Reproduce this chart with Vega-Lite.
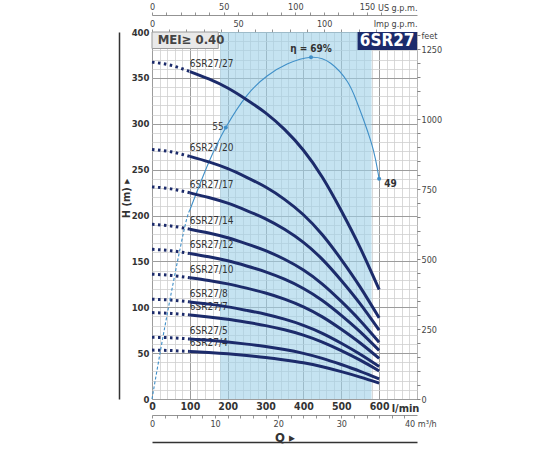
{
  "$schema": "https://vega.github.io/schema/vega-lite/v6.json",
  "width": 265,
  "height": 367,
  "autosize": "none",
  "padding": {"left": 152, "top": 32, "right": 133, "bottom": 51},
  "background": "white",
  "config": {
    "view": {"stroke": "#555", "strokeWidth": 1},
    "font": "Liberation Sans Narrow, DejaVu Sans Condensed, sans-serif",
    "axis": {"labelColor": "#333", "titleColor": "#222", "labelFlush": false, "labelOverlap": false}
  },
  "datasets": {
    "pumps": [
      {"p":"6SR27/27","q":0,"h":367.2},{"p":"6SR27/27","q":50,"h":363.7},{"p":"6SR27/27","q":100,"h":356.9},{"p":"6SR27/27","q":150,"h":348.8},{"p":"6SR27/27","q":200,"h":338.9},{"p":"6SR27/27","q":250,"h":326.2},{"p":"6SR27/27","q":300,"h":311.9},{"p":"6SR27/27","q":350,"h":293.8},{"p":"6SR27/27","q":400,"h":271.1},{"p":"6SR27/27","q":450,"h":241.7},{"p":"6SR27/27","q":500,"h":205.2},{"p":"6SR27/27","q":550,"h":164.7},{"p":"6SR27/27","q":600,"h":119.3},
      {"p":"6SR27/20","q":0,"h":272},{"p":"6SR27/20","q":50,"h":269.4},{"p":"6SR27/20","q":100,"h":264.4},{"p":"6SR27/20","q":150,"h":258.4},{"p":"6SR27/20","q":200,"h":251},{"p":"6SR27/20","q":250,"h":241.6},{"p":"6SR27/20","q":300,"h":231},{"p":"6SR27/20","q":350,"h":217.6},{"p":"6SR27/20","q":400,"h":200.8},{"p":"6SR27/20","q":450,"h":179},{"p":"6SR27/20","q":500,"h":152},{"p":"6SR27/20","q":550,"h":122},{"p":"6SR27/20","q":600,"h":88.4},
      {"p":"6SR27/17","q":0,"h":231.2},{"p":"6SR27/17","q":50,"h":229.0},{"p":"6SR27/17","q":100,"h":224.7},{"p":"6SR27/17","q":150,"h":219.6},{"p":"6SR27/17","q":200,"h":213.4},{"p":"6SR27/17","q":250,"h":205.4},{"p":"6SR27/17","q":300,"h":196.4},{"p":"6SR27/17","q":350,"h":185.0},{"p":"6SR27/17","q":400,"h":170.7},{"p":"6SR27/17","q":450,"h":152.2},{"p":"6SR27/17","q":500,"h":129.2},{"p":"6SR27/17","q":550,"h":103.7},{"p":"6SR27/17","q":600,"h":75.1},
      {"p":"6SR27/14","q":0,"h":190.4},{"p":"6SR27/14","q":50,"h":188.6},{"p":"6SR27/14","q":100,"h":185.1},{"p":"6SR27/14","q":150,"h":180.9},{"p":"6SR27/14","q":200,"h":175.7},{"p":"6SR27/14","q":250,"h":169.1},{"p":"6SR27/14","q":300,"h":161.7},{"p":"6SR27/14","q":350,"h":152.3},{"p":"6SR27/14","q":400,"h":140.6},{"p":"6SR27/14","q":450,"h":125.3},{"p":"6SR27/14","q":500,"h":106.4},{"p":"6SR27/14","q":550,"h":85.4},{"p":"6SR27/14","q":600,"h":61.9},
      {"p":"6SR27/12","q":0,"h":163.2},{"p":"6SR27/12","q":50,"h":161.6},{"p":"6SR27/12","q":100,"h":158.6},{"p":"6SR27/12","q":150,"h":155.0},{"p":"6SR27/12","q":200,"h":150.6},{"p":"6SR27/12","q":250,"h":145.0},{"p":"6SR27/12","q":300,"h":138.6},{"p":"6SR27/12","q":350,"h":130.6},{"p":"6SR27/12","q":400,"h":120.5},{"p":"6SR27/12","q":450,"h":107.4},{"p":"6SR27/12","q":500,"h":91.2},{"p":"6SR27/12","q":550,"h":73.2},{"p":"6SR27/12","q":600,"h":53.0},
      {"p":"6SR27/10","q":0,"h":136},{"p":"6SR27/10","q":50,"h":134.7},{"p":"6SR27/10","q":100,"h":132.2},{"p":"6SR27/10","q":150,"h":129.2},{"p":"6SR27/10","q":200,"h":125.5},{"p":"6SR27/10","q":250,"h":120.8},{"p":"6SR27/10","q":300,"h":115.5},{"p":"6SR27/10","q":350,"h":108.8},{"p":"6SR27/10","q":400,"h":100.4},{"p":"6SR27/10","q":450,"h":89.5},{"p":"6SR27/10","q":500,"h":76},{"p":"6SR27/10","q":550,"h":61},{"p":"6SR27/10","q":600,"h":44.2},
      {"p":"6SR27/8","q":0,"h":108.8},{"p":"6SR27/8","q":50,"h":107.8},{"p":"6SR27/8","q":100,"h":105.8},{"p":"6SR27/8","q":150,"h":103.4},{"p":"6SR27/8","q":200,"h":100.4},{"p":"6SR27/8","q":250,"h":96.6},{"p":"6SR27/8","q":300,"h":92.4},{"p":"6SR27/8","q":350,"h":87.0},{"p":"6SR27/8","q":400,"h":80.3},{"p":"6SR27/8","q":450,"h":71.6},{"p":"6SR27/8","q":500,"h":60.8},{"p":"6SR27/8","q":550,"h":48.8},{"p":"6SR27/8","q":600,"h":35.4},
      {"p":"6SR27/7","q":0,"h":94.2},{"p":"6SR27/7","q":50,"h":93.3},{"p":"6SR27/7","q":100,"h":91.6},{"p":"6SR27/7","q":150,"h":89.5},{"p":"6SR27/7","q":200,"h":87.0},{"p":"6SR27/7","q":250,"h":83.7},{"p":"6SR27/7","q":300,"h":80.0},{"p":"6SR27/7","q":350,"h":75.4},{"p":"6SR27/7","q":400,"h":69.6},{"p":"6SR27/7","q":450,"h":62.0},{"p":"6SR27/7","q":500,"h":52.7},{"p":"6SR27/7","q":550,"h":42.3},{"p":"6SR27/7","q":600,"h":30.6},
      {"p":"6SR27/5","q":0,"h":67.3},{"p":"6SR27/5","q":50,"h":66.7},{"p":"6SR27/5","q":100,"h":65.4},{"p":"6SR27/5","q":150,"h":64.0},{"p":"6SR27/5","q":200,"h":62.1},{"p":"6SR27/5","q":250,"h":59.8},{"p":"6SR27/5","q":300,"h":57.2},{"p":"6SR27/5","q":350,"h":53.9},{"p":"6SR27/5","q":400,"h":49.7},{"p":"6SR27/5","q":450,"h":44.3},{"p":"6SR27/5","q":500,"h":37.6},{"p":"6SR27/5","q":550,"h":30.2},{"p":"6SR27/5","q":600,"h":21.9},
      {"p":"6SR27/4","q":0,"h":53.3},{"p":"6SR27/4","q":50,"h":52.8},{"p":"6SR27/4","q":100,"h":51.8},{"p":"6SR27/4","q":150,"h":50.6},{"p":"6SR27/4","q":200,"h":49.2},{"p":"6SR27/4","q":250,"h":47.4},{"p":"6SR27/4","q":300,"h":45.3},{"p":"6SR27/4","q":350,"h":42.6},{"p":"6SR27/4","q":400,"h":39.4},{"p":"6SR27/4","q":450,"h":35.1},{"p":"6SR27/4","q":500,"h":29.8},{"p":"6SR27/4","q":550,"h":23.9},{"p":"6SR27/4","q":600,"h":17.3}
    ],
    "eff": [
      {"q":0,"h":0},{"q":39,"h":90},{"q":83,"h":181},{"q":100,"h":206},{"q":150,"h":258},{"q":195,"h":296},{"q":251,"h":331},{"q":304,"h":352},{"q":357,"h":365},{"q":420,"h":372.4},{"q":472,"h":366},{"q":516,"h":346},{"q":540,"h":325},{"q":560,"h":303},{"q":578,"h":281},{"q":590,"h":262},{"q":600,"h":240}
    ],
    "effpts": [
      {"q":195,"h":296,"t":"55","k":"l"},
      {"q":420,"h":372.4,"t":"η = 69%","k":"t"},
      {"q":600,"h":240,"t":"49","k":"r"}
    ],
    "zones": [
      {"name":"shade","q0":180,"q1":580,"h0":0,"h1":400},
      {"name":"mei","q0":0,"q1":175,"h0":382,"h1":400,"qt":15,"ht":391,"t":"MEI≥ 0.40"},
      {"name":"model","q0":543,"q1":700,"h0":380.5,"h1":400,"qt":621,"ht":390.5,"t":"6SR27"}
    ]
  },
  "layer": [
    {
      "data": {"name": "zones"},
      "transform": [{"filter": "datum.name == 'shade'"}],
      "mark": {"type": "rect", "fill": "#9fd0e8", "opacity": 0.6},
      "encoding": {
        "x": {"field": "q0", "type": "quantitative", "scale": {"domain": [0, 700], "nice": false, "zero": false},
              "axis": {"orient": "bottom", "values": [0,20,40,60,80,100,120,140,160,180,200,220,240,260,280,300,320,340,360,380,400,420,440,460,480,500,520,540,560,580,600,620,640,660,680,700],
                       "grid": true, "gridColor": "#cfcfcf", "gridWidth": 0.8, "labels": false, "ticks": false, "domain": false, "title": null}},
        "x2": {"field": "q1"},
        "y": {"field": "h0", "type": "quantitative", "scale": {"domain": [0, 400], "nice": false, "zero": false},
              "axis": {"orient": "left", "values": [0,10,20,30,40,50,60,70,80,90,100,110,120,130,140,150,160,170,180,190,200,210,220,230,240,250,260,270,280,290,300,310,320,330,340,350,360,370,380,390,400],
                       "grid": true, "gridColor": "#cfcfcf", "gridWidth": 0.8, "labels": false, "ticks": false, "domain": false, "title": null}},
        "y2": {"field": "h1"}
      }
    },
    {
      "data": {"name": "zones"},
      "transform": [{"filter": "datum.name == 'mei'"}],
      "mark": {"type": "rect", "fill": "#e9e9e9", "stroke": "#9a9a9a", "strokeWidth": 1},
      "encoding": {
        "x": {"field": "q0", "type": "quantitative", "scale": {"domain": [0, 700], "nice": false, "zero": false},
              "axis": {"orient": "bottom", "values": [0,100,200,300,400,500,600], "grid": true, "gridColor": "#9c9c9c", "gridWidth": 1,
                       "ticks": false, "domain": false, "labelFontWeight": "bold", "labelFontSize": 10.5, "labelPadding": 2, "labelColor": "#333",
                       "title": "l/min", "titleX": 253, "titleY": 9, "titleAlign": "center", "titleBaseline": "middle", "titleFontSize": 11, "titleFontWeight": "bold", "titleColor": "#333"}},
        "x2": {"field": "q1"},
        "y": {"field": "h0", "type": "quantitative", "scale": {"domain": [0, 400], "nice": false, "zero": false},
              "axis": {"orient": "left", "values": [0,50,100,150,200,250,300,350,400], "grid": true, "gridColor": "#9c9c9c", "gridWidth": 1,
                       "ticks": false, "domain": false, "labelFontWeight": "bold", "labelFontSize": 9.5, "labelPadding": 3, "labelColor": "#333",
                       "title": "H (m)   ▸", "titleAngle": -90, "titleX": -26, "titleY": 166, "titleAlign": "center", "titleBaseline": "middle",
                       "titleFontWeight": "bold", "titleFontSize": 11, "titleColor": "#333"}},
        "y2": {"field": "h1"}
      }
    },
    {
      "data": {"name": "zones"},
      "transform": [{"filter": "datum.name == 'model'"}],
      "mark": {"type": "rect", "fill": "#1c2b6b"},
      "encoding": {
        "x": {"field": "q0", "type": "quantitative", "scale": {"domain": [0, 700], "nice": false, "zero": false},
              "axis": {"orient": "top", "offset": 17,
                       "values": [0,37.85,75.71,113.56,151.42,189.27,227.12,264.98,302.83,340.69,378.54,416.39,454.25,492.1,529.96,567.81,605.66],
                       "labelExpr": "round(datum.value/3.7854)%50==0 ? format(round(datum.value/3.7854),'d') : ''",
                       "grid": false, "domain": true, "domainColor": "#777", "domainWidth": 0.8, "ticks": true, "tickColor": "#777", "tickSize": 3, "tickWidth": 0.8,
                       "labelFontSize": 9, "labelPadding": 1, "labelColor": "#444",
                       "title": "US g.p.m.", "titleX": 265, "titleY": -8, "titleAlign": "right", "titleBaseline": "middle", "titleFontSize": 9, "titleFontWeight": "normal", "titleColor": "#444"}},
        "x2": {"field": "q1"},
        "y": {"field": "h0", "type": "quantitative", "scale": {"domain": [0, 400], "nice": false, "zero": false},
              "axis": {"orient": "right",
                       "values": [0,15.24,30.48,45.72,60.96,76.2,91.44,106.68,121.92,137.16,152.4,167.64,182.88,198.12,213.36,228.6,243.84,259.08,274.32,289.56,304.8,320.04,335.28,350.52,365.76,381,396.24],
                       "labelExpr": "round(datum.value/0.3048)%250==0 ? format(round(datum.value/0.3048),'d') : ''",
                       "grid": false, "domain": false, "ticks": true, "tickColor": "#666", "tickSize": 3, "tickWidth": 0.8,
                       "labelFontSize": 9, "labelPadding": 1, "labelColor": "#444",
                       "title": "feet", "titleAngle": 0, "titleX": 4, "titleY": 3, "titleAlign": "left", "titleBaseline": "middle", "titleFontSize": 9, "titleFontWeight": "normal", "titleColor": "#444"}},
        "y2": {"field": "h1"}
      }
    },
    {
      "data": {"name": "zones"},
      "transform": [{"filter": "datum.name == 'mei'"}],
      "mark": {"type": "text", "align": "left", "baseline": "middle", "fontSize": 13, "fontWeight": "bold", "color": "#444"},
      "encoding": {
        "x": {"field": "qt", "type": "quantitative", "scale": {"domain": [0, 700], "nice": false, "zero": false},
              "axis": {"orient": "top", "offset": 0,
                       "values": [0,45.46,90.92,136.38,181.84,227.3,272.76,318.22,363.68,409.14,454.6,500.06,545.52,590.98],
                       "labelExpr": "round(datum.value/4.546)%50==0 ? format(round(datum.value/4.546),'d') : ''",
                       "grid": false, "domain": false, "ticks": true, "tickColor": "#777", "tickSize": 3, "tickWidth": 0.8,
                       "labelFontSize": 9, "labelPadding": 1, "labelColor": "#444",
                       "title": "Imp g.p.m.", "titleX": 265, "titleY": -9, "titleAlign": "right", "titleBaseline": "middle", "titleFontSize": 9, "titleFontWeight": "normal", "titleColor": "#444"}},
        "y": {"field": "ht", "type": "quantitative", "scale": {"domain": [0, 400], "nice": false, "zero": false}, "axis": null},
        "text": {"field": "t"}
      }
    },
    {
      "data": {"name": "zones"},
      "transform": [{"filter": "datum.name == 'model'"}],
      "mark": {"type": "text", "align": "center", "baseline": "middle", "fontSize": 17, "fontWeight": "bold", "color": "white"},
      "encoding": {
        "x": {"field": "qt", "type": "quantitative", "scale": {"domain": [0, 700], "nice": false, "zero": false}, "axis": null},
        "y": {"field": "ht", "type": "quantitative", "scale": {"domain": [0, 400], "nice": false, "zero": false},
              "axis": {"orient": "left", "offset": 33, "domain": true, "domainColor": "#333", "domainWidth": 1.5, "labels": false, "ticks": false, "grid": false, "title": null}},
        "text": {"field": "t"}
      }
    },
    {
      "data": {"name": "pumps"},
      "transform": [{"filter": "datum.q == 100"}],
      "mark": {"type": "text", "align": "left", "baseline": "alphabetic", "dy": -5, "fontSize": 10, "color": "#333"},
      "encoding": {
        "x": {"field": "q", "type": "quantitative", "scale": {"domain": [0, 700], "nice": false, "zero": false},
              "axis": {"orient": "bottom", "offset": 16,
                       "values": [0,33.33,66.67,100,133.33,166.67,200,233.33,266.67,300,333.33,366.67,400,433.33,466.67,500,533.33,566.67,600,633.33,666.67],
                       "labelExpr": "round(datum.value/16.6667)%10==0 ? (round(datum.value/16.6667)==40 ? '40 m³/h' : format(round(datum.value/16.6667),'d')) : ''",
                       "labelAlign": {"condition": {"test": "datum.value > 660", "value": "left"}, "value": "center"},
                       "grid": false, "domain": true, "domainColor": "#777", "domainWidth": 0.8, "ticks": true, "tickColor": "#777", "tickSize": 3, "tickWidth": 0.8,
                       "labelFontSize": 9, "labelPadding": 1, "labelColor": "#444",
                       "title": "Q  ▸", "titleFontSize": 13, "titleFontWeight": "bold", "titlePadding": 3, "titleColor": "#333"}},
        "y": {"field": "h", "type": "quantitative", "scale": {"domain": [0, 400], "nice": false, "zero": false}, "axis": null},
        "text": {"field": "p"}
      }
    },
    {
      "data": {"name": "pumps"},
      "transform": [{"filter": "datum.q <= 100"}],
      "mark": {"type": "line", "color": "#1c2b6b", "strokeWidth": 3, "strokeDash": [2.5, 3.5], "interpolate": "natural"},
      "encoding": {
        "x": {"field": "q", "type": "quantitative", "scale": {"domain": [0, 700], "nice": false, "zero": false},
              "axis": {"orient": "bottom", "offset": 43, "domain": true, "domainColor": "#333", "domainWidth": 1.5, "labels": false, "ticks": false, "grid": false, "title": null}},
        "y": {"field": "h", "type": "quantitative", "scale": {"domain": [0, 400], "nice": false, "zero": false}, "axis": null},
        "detail": {"field": "p"}
      }
    },
    {
      "data": {"name": "eff"},
      "transform": [{"filter": "datum.q <= 100"}],
      "mark": {"type": "line", "color": "#3f8fc8", "strokeWidth": 1.1, "strokeDash": [3, 2], "interpolate": "natural"},
      "encoding": {
        "x": {"field": "q", "type": "quantitative", "scale": {"domain": [0, 700], "nice": false, "zero": false}, "axis": null},
        "y": {"field": "h", "type": "quantitative", "scale": {"domain": [0, 400], "nice": false, "zero": false}, "axis": null}
      }
    },
    {
      "data": {"name": "eff"},
      "transform": [{"filter": "datum.q >= 100"}],
      "mark": {"type": "line", "color": "#3f8fc8", "strokeWidth": 1.1, "interpolate": "natural"},
      "encoding": {
        "x": {"field": "q", "type": "quantitative", "scale": {"domain": [0, 700], "nice": false, "zero": false}, "axis": null},
        "y": {"field": "h", "type": "quantitative", "scale": {"domain": [0, 400], "nice": false, "zero": false}, "axis": null}
      }
    },
    {
      "data": {"name": "pumps"},
      "transform": [{"filter": "datum.q >= 100"}],
      "mark": {"type": "line", "color": "#1c2b6b", "strokeWidth": 3, "interpolate": "natural"},
      "encoding": {
        "x": {"field": "q", "type": "quantitative", "scale": {"domain": [0, 700], "nice": false, "zero": false}, "axis": null},
        "y": {"field": "h", "type": "quantitative", "scale": {"domain": [0, 400], "nice": false, "zero": false}, "axis": null},
        "detail": {"field": "p"}
      }
    },
    {
      "data": {"name": "effpts"},
      "mark": {"type": "point", "filled": true, "color": "#3f8fc8", "size": 16, "opacity": 1},
      "encoding": {
        "x": {"field": "q", "type": "quantitative", "scale": {"domain": [0, 700], "nice": false, "zero": false}, "axis": null},
        "y": {"field": "h", "type": "quantitative", "scale": {"domain": [0, 400], "nice": false, "zero": false}, "axis": null}
      }
    },
    {
      "data": {"name": "effpts"},
      "transform": [{"filter": "datum.k == 'l'"}],
      "mark": {"type": "text", "align": "right", "baseline": "middle", "dx": -2, "fontSize": 10, "color": "#444"},
      "encoding": {
        "x": {"field": "q", "type": "quantitative", "scale": {"domain": [0, 700], "nice": false, "zero": false}, "axis": null},
        "y": {"field": "h", "type": "quantitative", "scale": {"domain": [0, 400], "nice": false, "zero": false}, "axis": null},
        "text": {"field": "t"}
      }
    },
    {
      "data": {"name": "effpts"},
      "transform": [{"filter": "datum.k == 't'"}],
      "mark": {"type": "text", "align": "center", "baseline": "middle", "dy": -8, "fontSize": 10, "fontWeight": "bold", "color": "#333"},
      "encoding": {
        "x": {"field": "q", "type": "quantitative", "scale": {"domain": [0, 700], "nice": false, "zero": false}, "axis": null},
        "y": {"field": "h", "type": "quantitative", "scale": {"domain": [0, 400], "nice": false, "zero": false}, "axis": null},
        "text": {"field": "t"}
      }
    },
    {
      "data": {"name": "effpts"},
      "transform": [{"filter": "datum.k == 'r'"}],
      "mark": {"type": "text", "align": "left", "baseline": "middle", "dx": 5, "dy": 5, "fontSize": 10, "fontWeight": "bold", "color": "#333"},
      "encoding": {
        "x": {"field": "q", "type": "quantitative", "scale": {"domain": [0, 700], "nice": false, "zero": false}, "axis": null},
        "y": {"field": "h", "type": "quantitative", "scale": {"domain": [0, 400], "nice": false, "zero": false}, "axis": null},
        "text": {"field": "t"}
      }
    }
  ],
  "resolve": {"axis": {"x": "independent", "y": "independent"}}
}
